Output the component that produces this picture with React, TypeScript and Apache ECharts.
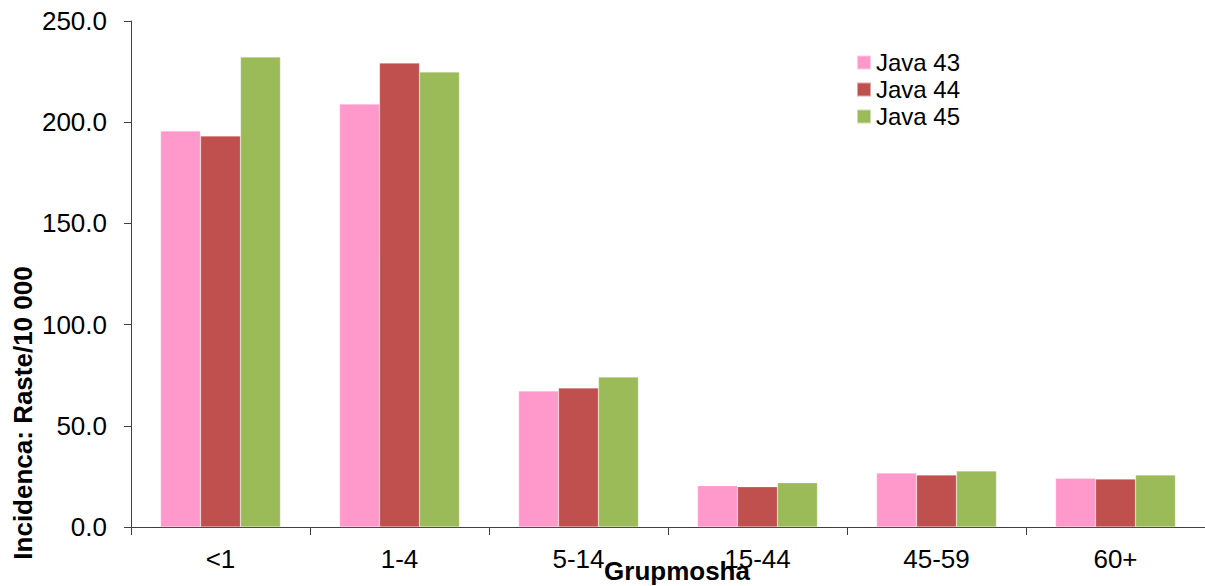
import React, { useEffect, useRef } from "react";
import * as echarts from "echarts";

const categories = ["<1", "1-4", "5-14", "15-44", "45-59", "60+"];
const java43 = [195.7, 209.0, 67.2, 20.4, 26.7, 24.1];
const java44 = [193.2, 229.2, 68.7, 19.9, 25.7, 23.7];
const java45 = [232.2, 224.8, 74.1, 21.9, 27.7, 25.7];
const seriesNames = ["Java 43", "Java 44", "Java 45"];
const colors = ["#FF99CC", "#C0504D", "#9BBB59"];
const xAxisTitle = "Grupmosha";
const yAxisTitle = "Incidenca: Raste/10 000";

export default function App() {
  const ref = useRef<HTMLDivElement>(null);
  useEffect(() => {
    if (!ref.current) return;
    const chart = echarts.init(ref.current, undefined, { renderer: "svg" });
    const font = "Liberation Sans, Arial, sans-serif";
    const data = [java43, java44, java45];
    chart.setOption({
      animation: false,
      textStyle: { fontFamily: font },
      grid: { left: 131, right: 0, top: 21, bottom: 59, outerBoundsMode: "none", containLabel: false },
      legend: {
        orient: "vertical",
        left: 851,
        top: 44,
        padding: 5,
        itemWidth: 14,
        itemHeight: 14,
        itemGap: 0,
        data: seriesNames,
        textStyle: { fontFamily: font, fontSize: 24, lineHeight: 27, color: "#000" },
        icon: "rect",
      },
      xAxis: {
        type: "category",
        data: categories,
        axisLine: { lineStyle: { color: "#404040", width: 1 } },
        axisTick: { show: true, length: 8, lineStyle: { color: "#404040" } },
        axisLabel: { fontFamily: font, fontSize: 26, color: "#000", margin: 19 },
      },
      yAxis: {
        type: "value",
        min: 0,
        max: 250,
        interval: 50,
        splitLine: { show: false },
        axisLine: { show: true, lineStyle: { color: "#404040", width: 1 } },
        axisTick: { show: true, length: 7, lineStyle: { color: "#404040" } },
        axisLabel: {
          fontFamily: font,
          fontSize: 26,
          color: "#000",
          margin: 24,
          formatter: (v: number) => v.toFixed(1),
        },
      },
      graphic: [
        {
          type: "text",
          x: 23,
          y: 413,
          rotation: Math.PI / 2,
          style: {
            text: yAxisTitle,
            fontFamily: font,
            fontSize: 26,
            fontWeight: "bold",
            fill: "#000",
            align: "center",
            verticalAlign: "middle",
          },
        },
        {
          type: "text",
          x: 677,
          y: 571,
          style: {
            text: xAxisTitle,
            fontFamily: font,
            fontSize: 26,
            fontWeight: "bold",
            fill: "#000",
            align: "center",
            verticalAlign: "middle",
          },
        },
      ],
      series: seriesNames.map((name, i) => ({
        name,
        type: "bar",
        data: data[i],
        barGap: "0%",
        barCategoryGap: "33%",
        itemStyle: { color: colors[i], borderColor: "rgba(255,255,255,0.5)", borderWidth: 0.5 },
      })),
    });
    return () => chart.dispose();
  }, []);
  return (
    <div
      ref={ref}
      style={{ position: "fixed", left: 0, top: 0, width: 1205, height: 586, background: "#fff" }}
    />
  );
}
